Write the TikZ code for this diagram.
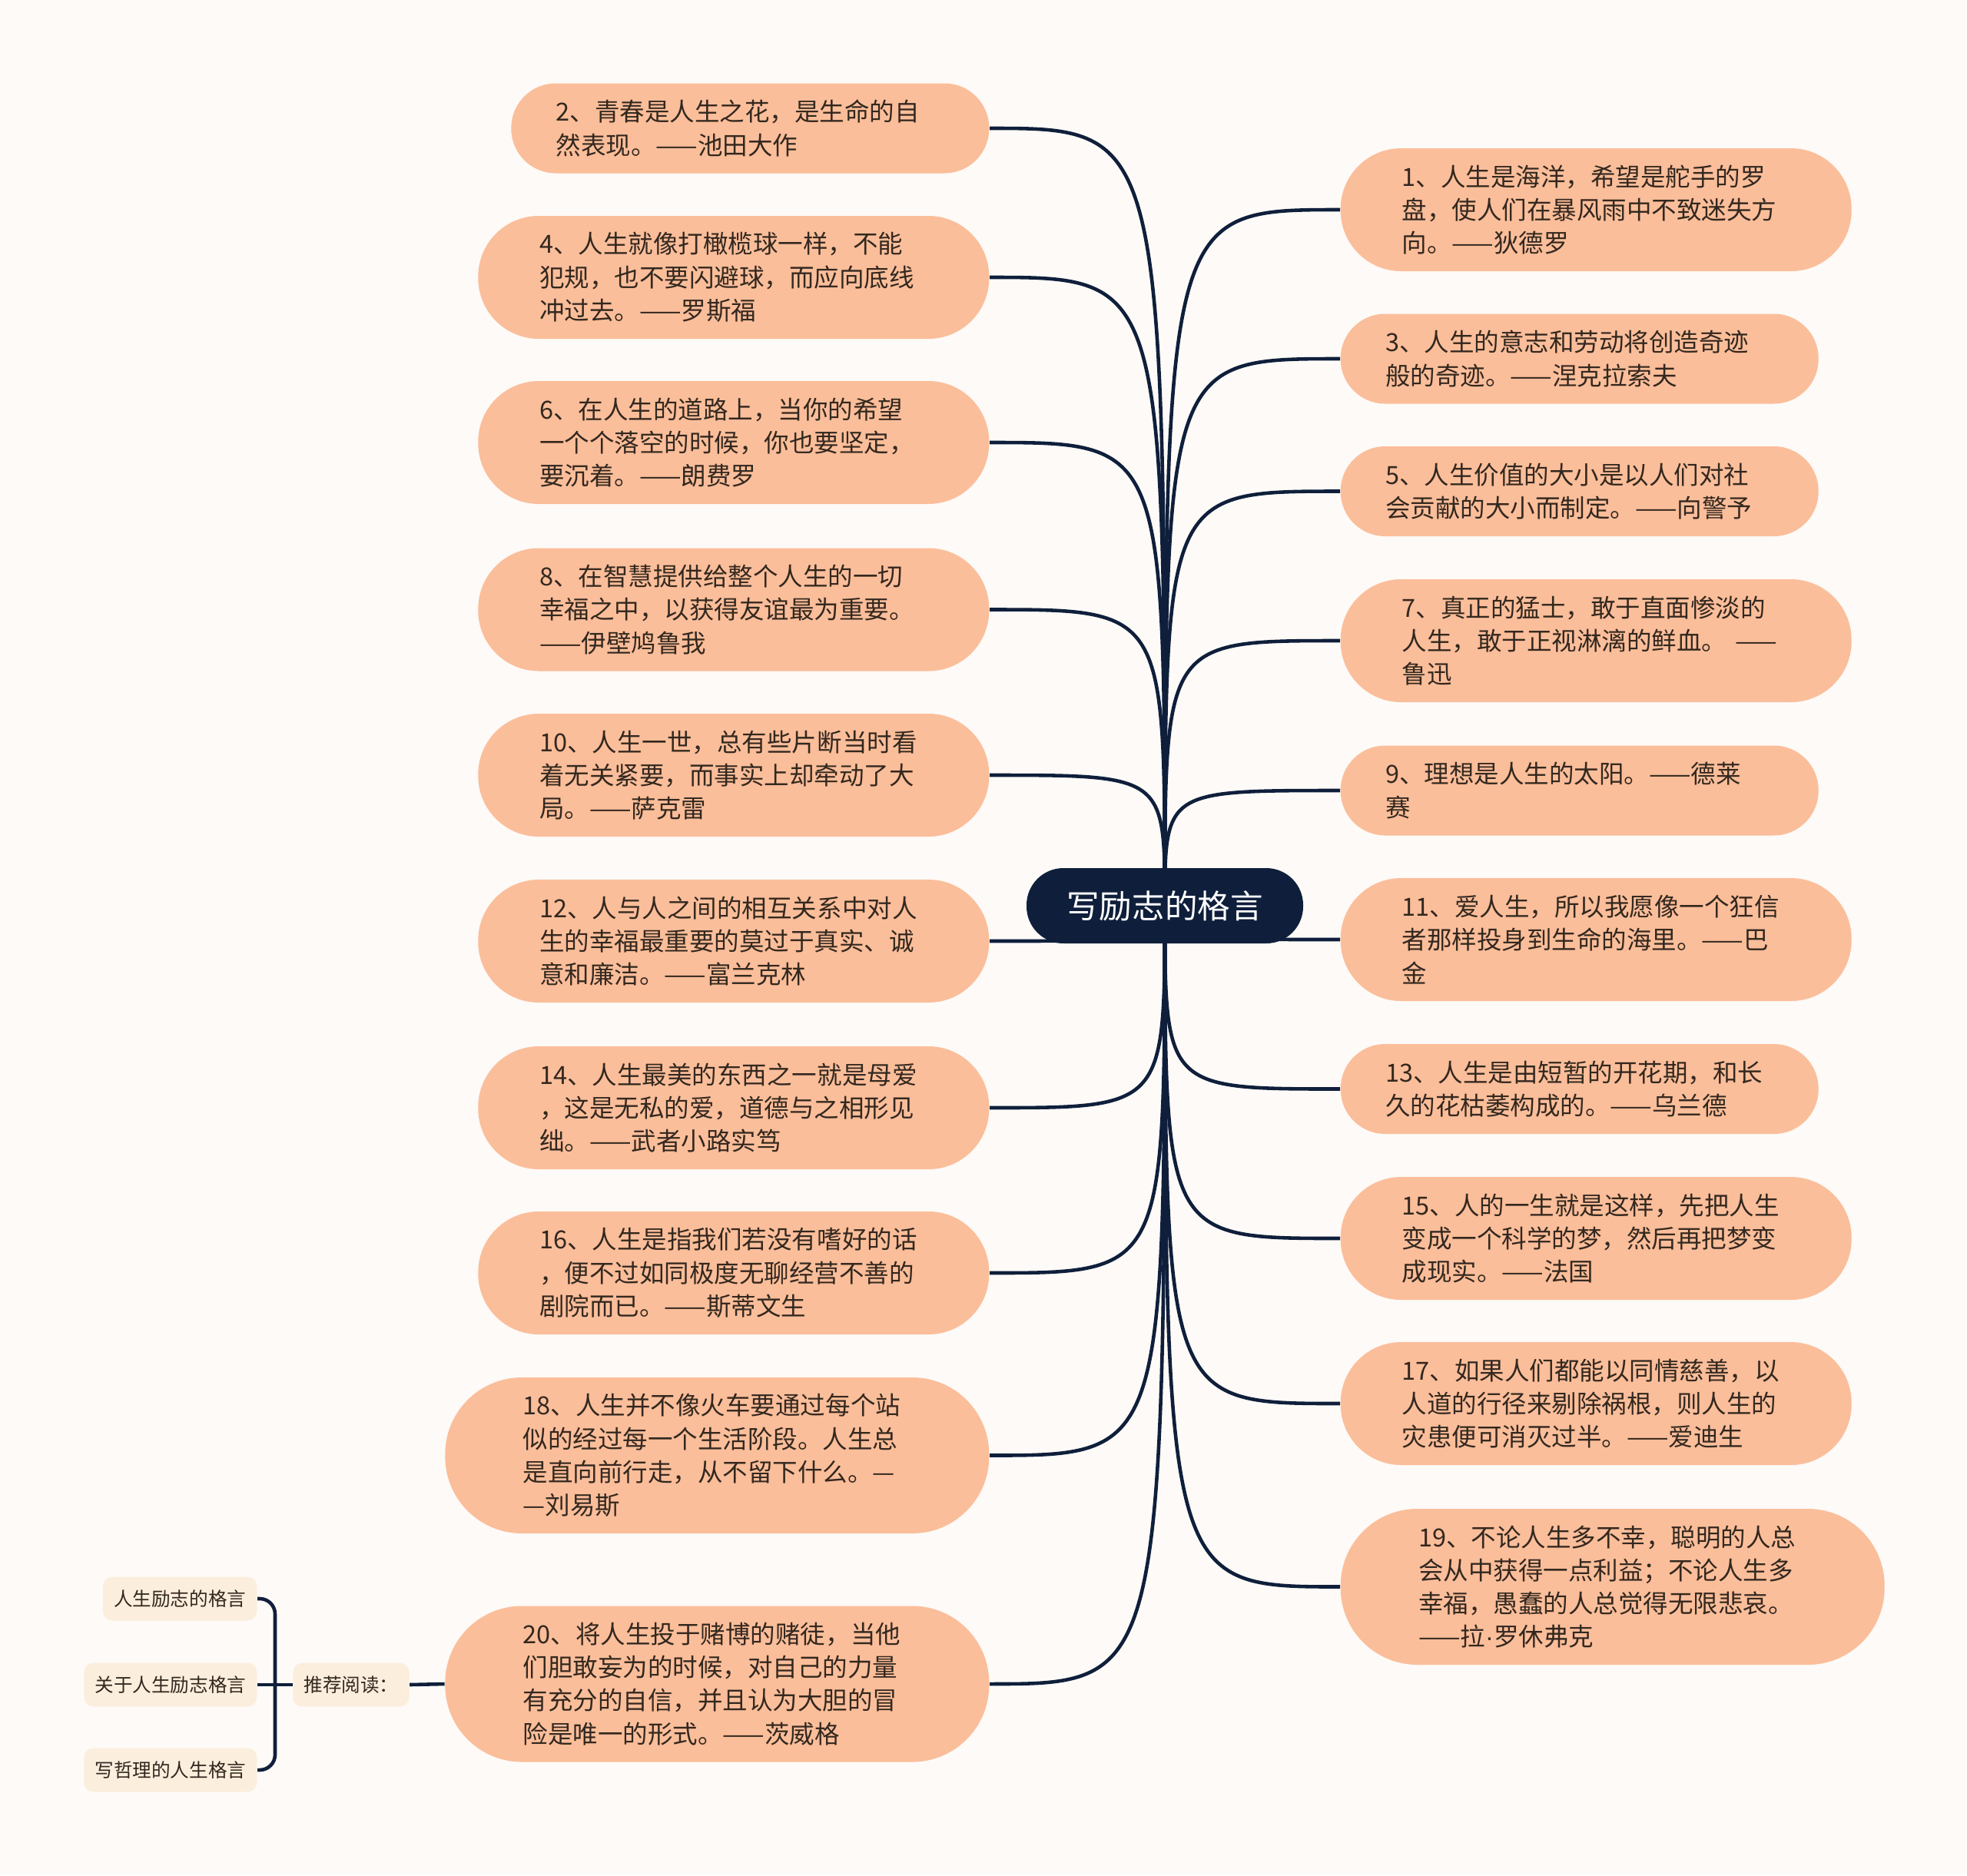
\documentclass[tikz,border=0pt]{standalone}
\usepackage{fontspec}
\setmainfont{Noto Sans CJK SC}
\newfontfamily\latinfont{Liberation Sans}
\definecolor{paper}{HTML}{FDFAF7}
\definecolor{peach}{HTML}{FBBE9A}
\definecolor{navy}{HTML}{0F1F3B}
\definecolor{cream}{HTML}{FCEEDD}
\definecolor{ink}{HTML}{33281F}
\pgfdeclarelayer{bg}
\pgfdeclarelayer{wires}
\pgfsetlayers{bg,wires,main}

\begin{document}
\begin{tikzpicture}[
    quote/.style={fill=peach, text=ink, align=left, text width=5.05cm,
        font=\fontsize{9.25pt}{12.3pt}\selectfont, inner ysep=0pt},
    lines2/.style={quote, minimum height=1.17cm, inner xsep=0.585cm, rounded corners=0.58cm},
    lines3/.style={quote, minimum height=1.6cm, inner xsep=0.8cm, rounded corners=0.79cm},
    lines4/.style={quote, minimum height=2.03cm, inner xsep=1.015cm, rounded corners=1cm},
    hub/.style={fill=navy, text=white, rounded corners=0.48cm, minimum width=3.6cm,
        minimum height=0.98cm, font=\fontsize{12.1pt}{14pt}\selectfont},
    tag/.style={fill=cream, text=ink, rounded corners=0.12cm, minimum height=0.57cm,
        inner xsep=0.14cm, font=\fontsize{7pt}{8pt}\selectfont},
    link/.style={draw=navy, line width=1.3pt},
]
    \useasboundingbox (0,0) rectangle (25.60,-24.41);
    \begin{pgfonlayer}{bg}
        \fill [paper] (0,0) rectangle (25.60,-24.41);
    \end{pgfonlayer}

    \node (T) [hub] at (15.16,-11.79) {写励志的格言};

    % left side
    \node (Q2) [lines2, anchor=east] at (12.88,-1.67) {2、青春是人生之花，是生命的自\\然表现。——池田大作};
    \node (Q4) [lines3, anchor=east] at (12.88,-3.61) {4、人生就像打橄榄球一样，不能\\犯规，也不要闪避球，而应向底线\\冲过去。——罗斯福};
    \node (Q6) [lines3, anchor=east] at (12.88,-5.76) {6、在人生的道路上，当你的希望\\一个个落空的时候，你也要坚定，\\要沉着。——朗费罗};
    \node (Q8) [lines3, anchor=east] at (12.88,-7.935) {8、在智慧提供给整个人生的一切\\幸福之中，以获得友谊最为重要。\\——伊壁鸠鲁我};
    \node (Q10) [lines3, anchor=east] at (12.88,-10.09) {10、人生一世，总有些片断当时看\\着无关紧要，而事实上却牵动了大\\局。——萨克雷};
    \node (Q12) [lines3, anchor=east] at (12.88,-12.25) {12、人与人之间的相互关系中对人\\生的幸福最重要的莫过于真实、诚\\意和廉洁。——富兰克林};
    \node (Q14) [lines3, anchor=east] at (12.88,-14.42) {14、人生最美的东西之一就是母爱\\，这是无私的爱，道德与之相形见\\绌。——武者小路实笃};
    \node (Q16) [lines3, anchor=east] at (12.88,-16.57) {16、人生是指我们若没有嗜好的话\\，便不过如同极度无聊经营不善的\\剧院而已。——斯蒂文生};
    \node (Q18) [lines4, anchor=east] at (12.88,-18.945) {18、人生并不像火车要通过每个站\\似的经过每一个生活阶段。人生总\\是直向前行走，从不留下什么。—\\—刘易斯};
    \node (Q20) [lines4, anchor=east] at (12.88,-21.92) {20、将人生投于赌博的赌徒，当他\\们胆敢妄为的时候，对自己的力量\\有充分的自信，并且认为大胆的冒\\险是唯一的形式。——茨威格};

    % right side
    \node (Q1) [lines3, anchor=west] at (17.44,-2.73) {1、人生是海洋，希望是舵手的罗\\盘，使人们在暴风雨中不致迷失方\\向。——狄德罗};
    \node (Q3) [lines2, anchor=west] at (17.44,-4.67) {3、人生的意志和劳动将创造奇迹\\般的奇迹。——涅克拉索夫};
    \node (Q5) [lines2, anchor=west] at (17.44,-6.395) {5、人生价值的大小是以人们对社\\会贡献的大小而制定。——向警予};
    \node (Q7) [lines3, anchor=west] at (17.44,-8.34) {7、真正的猛士，敢于直面惨淡的\\人生，敢于正视淋漓的鲜血。~——\\鲁迅};
    \node (Q9) [lines2, anchor=west] at (17.44,-10.29) {9、理想是人生的太阳。——德莱\\赛};
    \node (Q11) [lines3, anchor=west] at (17.44,-12.23) {11、爱人生，所以我愿像一个狂信\\者那样投身到生命的海里。——巴\\金};
    \node (Q13) [lines2, anchor=west] at (17.44,-14.175) {13、人生是由短暂的开花期，和长\\久的花枯萎构成的。——乌兰德};
    \node (Q15) [lines3, anchor=west] at (17.44,-16.12) {15、人的一生就是这样，先把人生\\变成一个科学的梦，然后再把梦变\\成现实。——法国};
    \node (Q17) [lines3, anchor=west] at (17.44,-18.27) {17、如果人们都能以同情慈善，以\\人道的行径来剔除祸根，则人生的\\灾患便可消灭过半。——爱迪生};
    \node (Q19) [lines4, anchor=west] at (17.44,-20.655) {19、不论人生多不幸，聪明的人总\\会从中获得一点利益；不论人生多\\幸福，愚蠢的人总觉得无限悲哀。\\——拉{\latinfont ·}罗休弗克};

    % recommended reading
    \node (R) [tag] at (4.57,-21.93) {推荐阅读：};
    \node (S1) [tag, anchor=east] at (3.35,-20.81) {人生励志的格言};
    \node (S2) [tag, anchor=east] at (3.35,-21.93) {关于人生励志格言};
    \node (S3) [tag, anchor=east] at (3.35,-23.04) {写哲理的人生格言};
    \coordinate (F) at (3.58,-21.93);

    \begin{pgfonlayer}{wires}
        \foreach \q in {Q2,Q4,Q6,Q8,Q10,Q12,Q14,Q16,Q18,Q20}
            \draw [link] (T.center) .. controls (T.center |- \q.east) .. (\q.east);
        \foreach \q in {Q1,Q3,Q5,Q7,Q9,Q11,Q13,Q15,Q17,Q19}
            \draw [link] (T.center) .. controls (T.center |- \q.west) .. (\q.west);
        \draw [link] (Q20.west) -- (R.east);
        \draw [link] (R.west) -- (S2.east);
        \draw [link, rounded corners=0.2cm] (S1.east) -| (F) |- (S3.east);
    \end{pgfonlayer}
\end{tikzpicture}
\end{document}
